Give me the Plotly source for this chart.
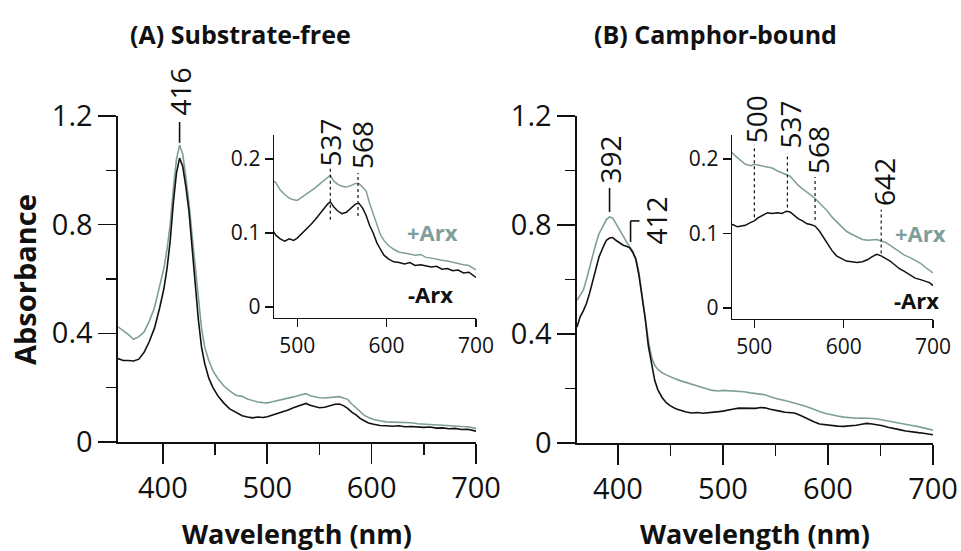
import plotly.graph_objects as go

# ---------------- data ----------------
wl_a = [357, 362, 367, 372, 377, 382, 387, 392, 397, 401, 404, 407, 410, 413, 416, 419, 422, 425, 428, 431,
        434, 437, 440, 444, 448, 453, 458, 464, 470, 476, 481, 486, 491, 496, 500, 505, 510, 515, 520, 525,
        530, 534, 537, 541, 545, 550, 555, 560, 565, 569, 573, 577, 581, 585, 589, 593, 597, 602, 608, 614,
        620, 626, 632, 638, 644, 650, 656, 662, 668, 674, 680, 686, 692, 697, 700]
a_plus = [0.424, 0.410, 0.395, 0.378, 0.388, 0.405, 0.445, 0.495, 0.570, 0.640, 0.710, 0.800, 0.930, 1.040,
          1.093, 1.060, 0.975, 0.880, 0.760, 0.640, 0.520, 0.420, 0.350, 0.300, 0.262, 0.232, 0.208, 0.188,
          0.172, 0.168, 0.158, 0.152, 0.147, 0.145, 0.144, 0.148, 0.152, 0.157, 0.161, 0.166, 0.171, 0.174,
          0.178, 0.170, 0.166, 0.163, 0.162, 0.164, 0.167, 0.167, 0.162, 0.157, 0.140, 0.125, 0.110, 0.098,
          0.090, 0.083, 0.078, 0.074, 0.073, 0.072, 0.070, 0.071, 0.067, 0.066, 0.064, 0.063, 0.062, 0.060,
          0.059, 0.057, 0.056, 0.052, 0.050]
a_minus = [0.307, 0.300, 0.300, 0.298, 0.305, 0.330, 0.370, 0.420, 0.495, 0.565, 0.640, 0.740, 0.880, 0.990,
           1.045, 1.015, 0.940, 0.850, 0.715, 0.580, 0.450, 0.350, 0.290, 0.235, 0.200, 0.168, 0.145, 0.122,
           0.108, 0.097, 0.092, 0.089, 0.092, 0.090, 0.093, 0.099, 0.104, 0.111, 0.118, 0.126, 0.133, 0.139,
           0.142, 0.135, 0.130, 0.126, 0.128, 0.133, 0.139, 0.140, 0.134, 0.124, 0.110, 0.100, 0.087, 0.078,
           0.070, 0.065, 0.061, 0.060, 0.058, 0.060, 0.056, 0.057, 0.055, 0.054, 0.055, 0.051, 0.052, 0.049,
           0.050, 0.046, 0.047, 0.043, 0.040]

wl_b = [361, 364, 367, 370, 373, 376, 379, 382, 386, 389, 392, 395, 398, 401, 405, 408, 411, 414, 417, 420,
        423, 426, 429, 432, 435, 438, 442, 446, 450, 455, 460, 465, 470, 476, 481, 485, 490, 496, 500, 504,
        509, 515, 520, 526, 531, 536, 540, 545, 549, 554, 559, 563, 568, 573, 578, 582, 587, 592, 597, 603,
        609, 615, 621, 627, 632, 637, 642, 647, 652, 657, 662, 668, 674, 680, 686, 691, 696, 700]
b_plus = [0.524, 0.545, 0.561, 0.600, 0.647, 0.690, 0.732, 0.768, 0.800, 0.820, 0.830, 0.825, 0.806, 0.785,
          0.757, 0.738, 0.720, 0.705, 0.675, 0.625, 0.545, 0.455, 0.375, 0.315, 0.285, 0.270, 0.258, 0.250,
          0.242, 0.235, 0.228, 0.222, 0.214, 0.207, 0.202, 0.198, 0.193, 0.191, 0.193, 0.192, 0.191, 0.190,
          0.188, 0.184, 0.181, 0.179, 0.177, 0.170, 0.165, 0.160, 0.156, 0.152, 0.147, 0.141, 0.136, 0.130,
          0.122, 0.116, 0.109, 0.103, 0.099, 0.095, 0.092, 0.091, 0.092, 0.092, 0.090, 0.088, 0.084, 0.080,
          0.076, 0.071, 0.068, 0.064, 0.060, 0.055, 0.050, 0.047]
b_minus = [0.426, 0.463, 0.485, 0.512, 0.550, 0.597, 0.640, 0.683, 0.720, 0.744, 0.752, 0.754, 0.744, 0.735,
           0.726, 0.722, 0.717, 0.700, 0.675, 0.615, 0.540, 0.455, 0.355, 0.285, 0.230, 0.195, 0.167, 0.148,
           0.136, 0.126, 0.119, 0.114, 0.110, 0.112, 0.109, 0.110, 0.111, 0.115, 0.117, 0.121, 0.124, 0.128,
           0.127, 0.128, 0.127, 0.130, 0.129, 0.124, 0.120, 0.117, 0.113, 0.112, 0.110, 0.103, 0.094, 0.085,
           0.077, 0.070, 0.067, 0.063, 0.062, 0.061, 0.062, 0.065, 0.069, 0.072, 0.070, 0.067, 0.063, 0.058,
           0.053, 0.049, 0.044, 0.040, 0.038, 0.036, 0.034, 0.030]

main_yticks = [0, 0.4, 0.8, 1.2]
main_yticktext = ["0", "0.4", "0.8", "1.2"]
main_yminor = [0.2, 0.6, 1.0]
main_xticks = [400, 500, 600, 700]
main_xminor = [450, 550, 650]
inset_xticks = [500, 600, 700]
inset_yticks = [0, 0.1, 0.2]
inset_yticktext = ["0", "0.1", "0.2"]

# peak markers: (label, x, y_low, y_high, label gap px, label x shift px)
inset_a_peaks = [("537", 537, 0.118, 0.189, 0, 0), ("568", 568, 0.123, 0.181, 3, 4)]
inset_b_peaks = [("500", 500, 0.122, 0.219, 1, 2), ("537", 537, 0.135, 0.208, 4, 3),
                 ("568", 568, 0.118, 0.176, 2, 3), ("642", 642, 0.073, 0.132, 3, 3)]

GRAY = "#7f9e9a"
BLACK = "#111111"
FONT = "Open Sans"

fig = go.Figure()

def add_pair(wl, plus, minus, xa, ya, width):
    fig.add_trace(go.Scatter(x=wl, y=plus, mode="lines", line=dict(color=GRAY, width=width),
                             xaxis=xa, yaxis=ya, showlegend=False, hoverinfo="skip"))
    fig.add_trace(go.Scatter(x=wl, y=minus, mode="lines", line=dict(color=BLACK, width=width),
                             xaxis=xa, yaxis=ya, showlegend=False, hoverinfo="skip"))

add_pair(wl_a, a_plus, a_minus, "x", "y", 1.6)
add_pair(wl_a, a_plus, a_minus, "x2", "y2", 1.5)
add_pair(wl_b, b_plus, b_minus, "x3", "y3", 1.6)
add_pair(wl_b, b_plus, b_minus, "x4", "y4", 1.5)

W, H = 961, 551
def dx(a, b): return [a / W, b / W]
def dy(top, bot): return [1 - bot / H, 1 - top / H]

axcommon = dict(showline=True, linecolor=BLACK, linewidth=1.6, showgrid=False, zeroline=False,
                ticks="outside", tickcolor=BLACK, tickwidth=1.6, automargin=False)

def main_x(dom, rng, anchor):
    return dict(axcommon, domain=dom, range=rng, anchor=anchor, tickvals=main_xticks, ticklen=20,
                tickfont=dict(family=FONT, size=29, color=BLACK),
                minor=dict(tickvals=main_xminor, ticklen=11, ticks="outside", tickwidth=1.6, tickcolor=BLACK))

def main_y(dom, anchor):
    return dict(axcommon, domain=dom, range=[0, 1.2], anchor=anchor, tickvals=main_yticks,
                ticktext=main_yticktext, ticklen=18, tickfont=dict(family=FONT, size=29, color=BLACK),
                minor=dict(tickvals=main_yminor, ticklen=10, ticks="outside", tickwidth=1.6, tickcolor=BLACK))

def inset_x(dom, rng, anchor):
    return dict(axcommon, domain=dom, range=rng, anchor=anchor, tickvals=inset_xticks, ticklen=8,
                linewidth=1.4, tickwidth=1.4, tickfont=dict(family=FONT, size=21, color=BLACK))

def inset_y(dom, anchor):
    return dict(axcommon, domain=dom, range=[-0.0149, 0.2324], anchor=anchor, tickvals=inset_yticks,
                ticktext=inset_yticktext, ticklen=8, linewidth=1.4, tickwidth=1.4,
                tickfont=dict(family=FONT, size=21, color=BLACK))

fig.update_layout(
    template="none",
    width=W, height=H, margin=dict(l=0, r=0, t=0, b=0, pad=0), autosize=False,
    paper_bgcolor="white", plot_bgcolor="rgba(0,0,0,0)",
    xaxis=main_x(dx(118, 476), [357, 700], "y"),
    yaxis=main_y(dy(116, 442), "x"),
    xaxis2=inset_x(dx(274, 476), [474, 700], "y2"),
    yaxis2=inset_y(dy(135, 318), "x2"),
    xaxis3=main_x(dx(577, 933), [361, 700], "y3"),
    yaxis3=main_y(dy(116, 443), "x3"),
    xaxis4=inset_x(dx(732, 933), [475, 700], "y4"),
    yaxis4=inset_y(dy(135, 319), "x4"),
)

ann = []
shapes = []

def txt(text, x, y, xref, yref, size=28, angle=0, color=BLACK, xshift=0, yshift=0,
        bold=False, yanchor="middle"):
    t = f"<b>{text}</b>" if bold else text
    ann.append(dict(text=t, x=x, y=y, xref=xref, yref=yref, showarrow=False, textangle=angle,
                    xanchor="center", yanchor=yanchor, xshift=xshift, yshift=yshift, borderpad=0,
                    font=dict(family=FONT, size=size, color=color)))

def seg(x0, y0, x1, y1, xref, yref, dash="solid", width=1.6):
    shapes.append(dict(type="line", x0=x0, y0=y0, x1=x1, y1=y1, xref=xref, yref=yref,
                       line=dict(color=BLACK, width=width, dash=dash)))

# titles
txt("(A) Substrate-free", 240 / W, 1 - 34 / H, "paper", "paper", size=25, bold=True)
txt("(B) Camphor-bound", 715 / W, 1 - 34 / H, "paper", "paper", size=25, bold=True)
txt("Wavelength (nm)", 297 / W, 1 - 533 / H, "paper", "paper", size=27, bold=True)
txt("Wavelength (nm)", 755 / W, 1 - 533 / H, "paper", "paper", size=27, bold=True)
txt("Absorbance", 24 / W, 1 - 280 / H, "paper", "paper", size=29, angle=-90, bold=True)

# main peak labels
txt("416", 416, 1.178, "x", "y", angle=-90, yanchor="bottom", yshift=5)
seg(416, 1.101, 416, 1.178, "x", "y")
txt("392", 392, 0.936, "x3", "y3", angle=-90, yanchor="bottom", yshift=3)
seg(392, 0.848, 392, 0.936, "x3", "y3")
txt("412", 412, 0.815, "x3", "y3", angle=-90, xshift=25)
seg(412, 0.738, 412, 0.815, "x3", "y3")
seg(412, 0.815, 420.5, 0.815, "x3", "y3")

# inset peak labels
for lab, x, ylo, yhi, gap, xs in inset_a_peaks:
    seg(x, ylo, x, yhi, "x2", "y2", dash="dot", width=1.2)
    txt(lab, x, yhi, "x2", "y2", angle=-90, yanchor="bottom", yshift=gap, xshift=xs)
for lab, x, ylo, yhi, gap, xs in inset_b_peaks:
    seg(x, ylo, x, yhi, "x4", "y4", dash="dot", width=1.2)
    txt(lab, x, yhi, "x4", "y4", angle=-90, yanchor="bottom", yshift=gap, xshift=xs)

# series labels
txt("+Arx", 651, 0.101, "x2", "y2", size=22, color=GRAY, bold=True)
txt("-Arx", 649, 0.018, "x2", "y2", size=22, bold=True)
txt("+Arx", 686, 0.101, "x4", "y4", size=22, color=GRAY, bold=True)
txt("-Arx", 682, 0.010, "x4", "y4", size=22, bold=True)

fig.update_layout(annotations=ann, shapes=shapes)
fig.write_html("out.html", config={"displayModeBar": False, "staticPlot": True},
               post_script="document.body.style.margin='0';document.body.style.padding='0';"
                           "document.body.style.overflow='hidden';")
